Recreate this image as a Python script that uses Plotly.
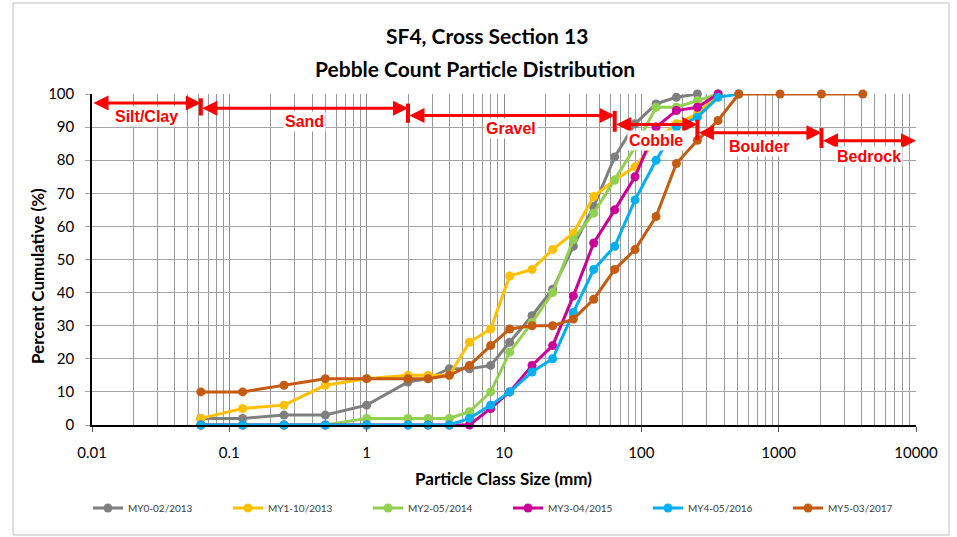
import math
import plotly.graph_objects as go

# Sieve / particle class sizes (mm)
sizes = [0.062, 0.125, 0.25, 0.5, 1, 2, 2.8, 4, 5.6, 8, 11, 16, 22.6, 32, 45,
         64, 90, 128, 180, 256, 362, 512, 1024, 2048, 4096]

# Cumulative percent finer for each survey
my0 = [2, 2, 3, 3, 6, 13, 14, 17, 17, 18, 25, 33, 41, 54, 66, 81, 91, 97, 99, 100]
my1 = [2, 5, 6, 12, 14, 15, 15, 15, 25, 29, 45, 47, 53, 58, 69, 74, 78, 86, 91, 94, 100]
my2 = [0, 0, 0, 0, 2, 2, 2, 2, 4, 10, 22, 31, 40, 56, 64, 74, 84, 96, 96, 98, 100]
my3 = [0, 0, 0, 0, 0, 0, 0, 0, 0, 5, 10, 18, 24, 39, 55, 65, 75, 90, 95, 96, 100]
my4 = [0, 0, 0, 0, 0, 0, 0, 0, 2, 6, 10, 16, 20, 34, 47, 54, 68, 80, 90, 93, 99, 100]
my5 = [10, 10, 12, 14, 14, 14, 14, 15, 18, 24, 29, 30, 30, 32, 38, 47, 53, 63,
       79, 86, 92, 100, 100, 100, 100]

series_names = ["MY0-02/2013", "MY1-10/2013", "MY2-05/2014",
                "MY3-04/2015", "MY4-05/2016", "MY5-03/2017"]
series_values = [my0, my1, my2, my3, my4, my5]
series_colors = ["#7f7f7f", "#ffc000", "#92d050", "#cc0099", "#00b0f0", "#c55a11"]

# Particle classes: boundaries (mm) and labels
class_labels = ["Silt/Clay", "Sand", "Gravel", "Cobble", "Boulder", "Bedrock"]
class_bounds = [0.01, 0.062, 2, 64, 256, 2048, 10000]
arrow_levels = [97.3, 95.7, 93.5, 90.8, 88.3, 85.9]
label_levels = [93.1, 91.8, 89.6, 86.1, 84.0, 81.0]

x_tickvals = [0.01, 0.1, 1, 10, 100, 1000, 10000]
x_ticktext = ["0.01", "0.1", "1", "10", "100", "1000", "10000"]

FONT = "Lato"
RED = "#ff0000"

# plot-area geometry in pixels, used to place free text in paper units
L, R, T, B = 92, 916, 94, 425


def px_to_paper(px, py):
    return (px - L) / (R - L), (B - py) / (B - T)


fig = go.Figure()

for name, vals, col in zip(series_names, series_values, series_colors):
    fig.add_trace(go.Scatter(
        x=sizes[:len(vals)], y=vals, name=name, mode="lines+markers",
        line=dict(color=col, width=3),
        marker=dict(color=col, size=9),
        cliponaxis=False,
    ))

# Vertical bars marking the class boundaries
for i in range(1, len(class_bounds) - 1):
    b = class_bounds[i]
    top = arrow_levels[i - 1] + 1.4
    bottom = arrow_levels[i] - 2.2
    fig.add_trace(go.Scatter(
        x=[b, b], y=[bottom, top], mode="lines",
        line=dict(color=RED, width=4), showlegend=False, hoverinfo="skip",
    ))

annotations = []
# Double-headed arrows spanning each class, with a label under each
for i, lab in enumerate(class_labels):
    lo = math.log10(class_bounds[i])
    hi = math.log10(class_bounds[i + 1])
    annotations.append(dict(
        x=hi, y=arrow_levels[i], ax=lo, ay=arrow_levels[i],
        xref="x", yref="y", axref="x", ayref="y",
        text="", showarrow=True, arrowhead=2, arrowside="end+start",
        arrowsize=1, arrowwidth=3, arrowcolor=RED, standoff=0, startstandoff=0,
    ))
    annotations.append(dict(
        x=(lo + hi) / 2, y=label_levels[i], xref="x", yref="y",
        text=lab, showarrow=False, bgcolor="white", borderpad=1,
        font=dict(family="Liberation Sans, Arial", size=16, color=RED, weight="bold"),
    ))

# Two-line chart title
for txt, cx, cy in [("SF4, Cross Section 13", 487, 35),
                    ("Pebble Count Particle Distribution", 475, 68)]:
    px, py = px_to_paper(cx, cy)
    annotations.append(dict(
        x=px, y=py, xref="paper", yref="paper", xanchor="center", yanchor="middle",
        text=f"<b>{txt}</b>", showarrow=False,
        font=dict(family=FONT, size=21, color="black"),
    ))

# Axis titles
px, py = px_to_paper(503, 478)
annotations.append(dict(
    x=px, y=py, xref="paper", yref="paper", xanchor="center", yanchor="middle",
    text="<b>Particle Class Size (mm)</b>", showarrow=False,
    font=dict(family=FONT, size=17, color="black"),
))
px, py = px_to_paper(37, 276)
annotations.append(dict(
    x=px, y=py, xref="paper", yref="paper", xanchor="center", yanchor="middle",
    text="<b>Percent Cumulative (%)</b>", showarrow=False, textangle=-90,
    font=dict(family=FONT, size=17, color="black"),
))

bx0, by0 = px_to_paper(13, 535)
bx1, by1 = px_to_paper(949, 3)
lgx, lgy = px_to_paper(88, 508)

fig.update_layout(
    width=957, height=537,
    margin=dict(l=L, r=957 - R, t=T, b=537 - B),
    paper_bgcolor="white", plot_bgcolor="white",
    font=dict(family=FONT, color="black"),
    showlegend=True,
    legend=dict(
        orientation="h", x=lgx, xanchor="left", y=lgy, yanchor="middle",
        entrywidth=95, entrywidthmode="pixels",
        font=dict(family=FONT, size=10, color="#404040"),
        itemclick=False, tracegroupgap=0,
    ),
    annotations=annotations,
    shapes=[dict(
        type="rect", xref="paper", yref="paper",
        x0=bx0, x1=bx1, y0=by0, y1=by1,
        line=dict(color="#bfbfbf", width=1), fillcolor="rgba(0,0,0,0)", layer="below",
    )],
)

fig.update_xaxes(
    type="log", range=[-2, 4],
    tickvals=x_tickvals, ticktext=x_ticktext,
    tickfont=dict(family=FONT, size=15, color="black"),
    ticks="outside", ticklen=5, tickcolor="#595959",
    showline=True, linecolor="black", linewidth=1.5,
    showgrid=True, gridcolor="#8c8c8c", gridwidth=1,
    minor=dict(dtick="D1", showgrid=True, gridcolor="#9a9a9a", gridwidth=1, ticks=""),
    ticklabelstandoff=8,
    zeroline=False,
)
fig.update_yaxes(
    range=[0, 100], dtick=10,
    tickfont=dict(family=FONT, size=15, color="black"),
    ticks="outside", ticklen=5, tickcolor="#a6a6a6",
    showline=True, linecolor="black", linewidth=1.5,
    showgrid=True, gridcolor="#a6a6a6", gridwidth=1,
    ticklabelstandoff=8,
    zeroline=False,
)

fig.write_html("out.html")
